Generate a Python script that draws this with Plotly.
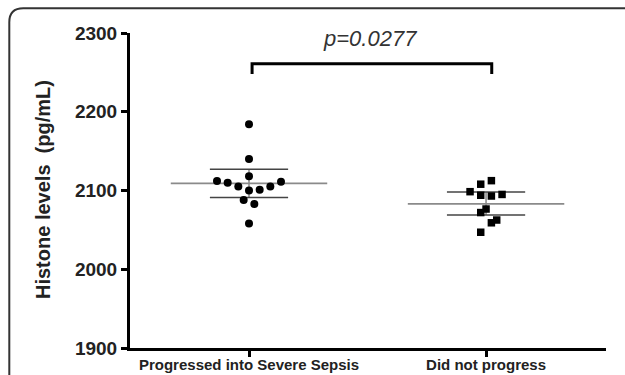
import numpy as np
import plotly.graph_objects as go

categories = ["Progressed into Severe Sepsis", "Did not progress"]
progressed_values = [2184, 2140, 2118, 2112, 2110, 2105, 2100, 2101, 2105, 2111, 2088, 2083, 2058]
progressed_offsets = [0, 0, 0, -3, -2, -1, 0, 1, 2, 3, -0.5, 0.5, 0]
notprog_values = [2108, 2112.5, 2098.5, 2094, 2093, 2095, 2072, 2076.5, 2059, 2062.5, 2047]
notprog_offsets = [-0.5, 0.5, -1.5, -0.5, 0.5, 1.5, -0.5, 0, 0.5, 1, -0.5]
means = [2109, 2083]
ci_low = [2091, 2069]
ci_high = [2127, 2098]
y_ticks = [1900, 2000, 2100, 2200, 2300]
p_text = "p=0.0277"
bracket_top = 2261
bracket_bottom = 2248

W, H = 625, 375
L, R, T, B = 130, 19, 33, 27
JIT = 0.045
MEAN_HW = 0.33
CI_HW = 0.165

fig = go.Figure()

mx, my = [], []
cx, cy = [], []
vx, vy = [], []
for i, (m, lo, hi) in enumerate(zip(means, ci_low, ci_high)):
    mx += [i - MEAN_HW, i + MEAN_HW, None]
    my += [m, m, None]
    cx += [i - CI_HW, i + CI_HW, None, i - CI_HW, i + CI_HW, None]
    cy += [lo, lo, None, hi, hi, None]
    vx += [i, i, None]
    vy += [lo, hi, None]

fig.add_trace(go.Scatter(x=vx, y=vy, mode="lines", line=dict(color="#888888", width=1.5), hoverinfo="skip"))
fig.add_trace(go.Scatter(x=mx, y=my, mode="lines", line=dict(color="#8a8a8a", width=1.6), hoverinfo="skip"))
fig.add_trace(go.Scatter(x=cx, y=cy, mode="lines", line=dict(color="#444444", width=1.5), hoverinfo="skip"))

fig.add_trace(go.Scatter(
    x=[0 + o * JIT for o in progressed_offsets], y=progressed_values, mode="markers",
    marker=dict(symbol="circle", size=8, color="black"), name=categories[0]))
fig.add_trace(go.Scatter(
    x=[1 + o * JIT for o in notprog_offsets], y=notprog_values, mode="markers",
    marker=dict(symbol="square", size=7.5, color="black"), name=categories[1]))

fig.add_trace(go.Scatter(
    x=[0.013, 0.013, 1.024, 1.024], y=[bracket_bottom, bracket_top, bracket_top, bracket_bottom],
    mode="lines", line=dict(color="black", width=3), hoverinfo="skip"))

def px2paper_x(px):
    return (px - L) / (W - L - R)

def px2paper_y(py):
    return (H - B - py) / (H - T - B)

x0, y0, r = 9.3, 8.3, 14
path = (f"M {px2paper_x(x0)} {px2paper_y(H + 10)} "
        f"L {px2paper_x(x0)} {px2paper_y(y0 + r)} "
        f"Q {px2paper_x(x0)} {px2paper_y(y0)} {px2paper_x(x0 + r)} {px2paper_y(y0)} "
        f"L {px2paper_x(W + 10)} {px2paper_y(y0)}")
fig.add_shape(type="path", path=path, xref="paper", yref="paper",
              line=dict(color="#333333", width=2))

fig.add_annotation(text=p_text, x=px2paper_x(370), y=px2paper_y(38), xref="paper", yref="paper",
                   showarrow=False, xanchor="center", yanchor="middle",
                   font=dict(family="Liberation Sans", size=22, color="#333333", style="italic"))
fig.add_annotation(text="Histone levels\u00a0\u00a0(pg/mL)", x=px2paper_x(43), y=px2paper_y(190),
                   xref="paper", yref="paper", showarrow=False, textangle=-90,
                   xanchor="center", yanchor="middle",
                   font=dict(family="Liberation Sans", size=20, color="#222222", weight="bold"))

fig.update_layout(
    width=W, height=H, margin=dict(l=L, r=R, t=T, b=B, autoexpand=False),
    paper_bgcolor="white", plot_bgcolor="white", showlegend=False,
    xaxis=dict(range=[-0.502, 1.506], tickvals=[0, 1], ticktext=categories, automargin=False,
               showline=True, linewidth=3, linecolor="black", ticks="outside",
               ticklen=6, tickwidth=3, tickcolor="black", showgrid=False, zeroline=False,
               ticklabelstandoff=-5,
               tickfont=dict(family="Liberation Sans", size=15, color="#222222", weight="bold")),
    yaxis=dict(range=[1900, 2300], tickvals=y_ticks, automargin=False,
               showline=True, linewidth=3, linecolor="black", ticks="outside",
               ticklen=6, tickwidth=3, tickcolor="black", showgrid=False, zeroline=False,
               tickfont=dict(family="Liberation Sans", size=19, color="#222222", weight="bold")),
)

fig.write_html("out.html")
